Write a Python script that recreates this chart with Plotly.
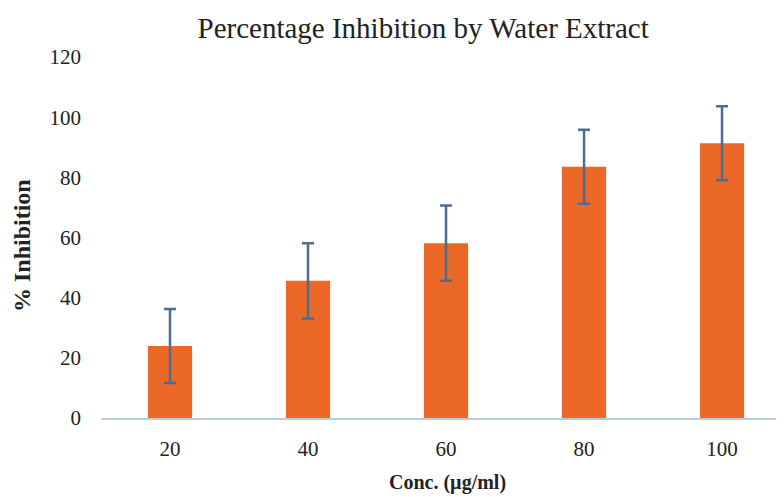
import plotly.graph_objects as go

categories = ["20", "40", "60", "80", "100"]
inhibition = [23.9, 45.6, 58.1, 83.5, 91.3]
error = [12.3, 12.5, 12.5, 12.3, 12.3]
y_ticks = [0, 20, 40, 60, 80, 100, 120]

fig = go.Figure()
fig.add_trace(go.Bar(
    x=categories,
    y=inhibition,
    width=0.32,
    marker=dict(color="#EC6826", line=dict(width=0)),
    error_y=dict(type="data", array=error, visible=True,
                 color="#4E6C93", thickness=2.5, width=6),
))

serif = "Liberation Serif, Times New Roman, serif"
fig.update_layout(
    width=776, height=489,
    margin=dict(l=93, r=0, t=49, b=79),
    paper_bgcolor="white", plot_bgcolor="white",
    showlegend=False,
    font=dict(family=serif, color="#222222", size=21),
    title=dict(text="Percentage Inhibition by Water Extract",
               x=0.535, xanchor="center", y=0.959, yanchor="middle",
               font=dict(family=serif, size=29, color="#222222")),
    annotations=[
        dict(text="<b>Conc. (µg/ml)</b>", xref="paper", yref="paper",
             x=0.507, y=-0.178, xanchor="center", yanchor="middle",
             showarrow=False, font=dict(size=20, family=serif, color="#222222")),
        dict(text="<b>% Inhibition</b>", xref="paper", yref="paper",
             x=-0.1157, y=0.479, xanchor="center", yanchor="middle",
             textangle=-90, showarrow=False,
             font=dict(size=24, family=serif, color="#222222")),
    ],
)
fig.update_xaxes(
    type="category", range=[-0.5, 4.449],
    showline=True, linecolor="#BCCCDD", linewidth=1.5,
    showgrid=False, ticks="", ticklabelstandoff=11,
    tickfont=dict(size=21, family=serif),
)
fig.update_yaxes(
    range=[0, 120], tickvals=y_ticks,
    showline=False, showgrid=False, zeroline=False, ticks="",
    ticklabelstandoff=19,
    tickfont=dict(size=21, family=serif),
)

fig.write_html("out.html")
